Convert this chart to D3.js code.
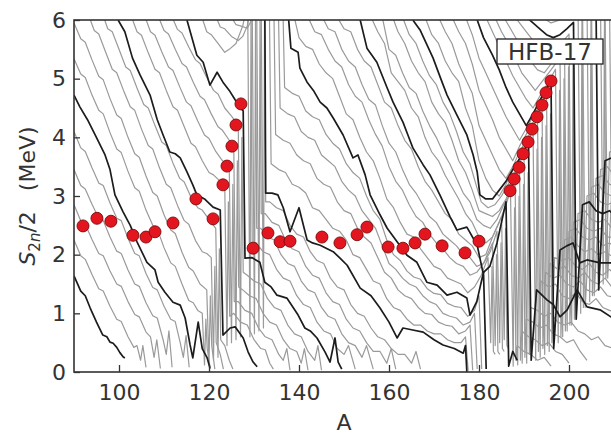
<!DOCTYPE html>
<html>
<head>
<meta charset="utf-8">
<script src="https://cdn.jsdelivr.net/npm/d3@7"></script>
<style>
  body { margin: 0; background: #fff; }
  svg { display: block; }
</style>
</head>
<body>
<svg id="chart" width="611" height="434"></svg>
<script>
// axis ticks
var xTicks = [100, 120, 140, 160, 180, 200]
var yTicks = [0, 1, 2, 3, 4, 5, 6]

// red dots (A, S2n/2)
var dotA = [92, 95.1, 98.2, 103.1, 106, 108, 112, 117.1, 120.9, 123.1, 124, 125.1, 126, 127.1,
            129.8, 133.1, 135.8, 138, 145.1, 149.1, 152.9, 155.1, 159.8, 163.1, 165.8, 168, 171.8, 176.9, 180,
            186.9, 187.8, 188.9, 189.8, 190.9, 191.8, 192.9, 194, 194.9, 196]
var dotS = [2.49, 2.62, 2.57, 2.33, 2.30, 2.39, 2.54, 2.95, 2.61, 3.19, 3.51, 3.85, 4.21, 4.57,
            2.11, 2.37, 2.22, 2.23, 2.30, 2.20, 2.34, 2.47, 2.13, 2.11, 2.20, 2.35, 2.15, 2.03, 2.23,
            3.09, 3.29, 3.49, 3.72, 3.92, 4.14, 4.35, 4.55, 4.76, 4.96]

// isotopic chains, [A, S2n/2]
var z30 = [[90,1.64],[91.5,1.38],[92.5,1.3],[93.6,1.09],[95,0.85],[96.4,0.63],[97.3,0.6],[98,0.51],[98.7,0.49],[99.5,0.42],[100.2,0.33],[100.9,0.26],[101.3,0.24]]
var z31 = [[90,2.25],[91.5,1.98],[92.5,1.92],[94,1.66],[95.5,1.42],[96.5,1.38],[98,1.12],[99.5,0.9],[100.5,0.86],[102,0.6],[103.3,0.42],[104,0.45],[104.8,0.2],[105.3,0.45],[106,0.08]]
var z32 = [[90,2.85],[91.5,2.58],[92.5,2.52],[94,2.26],[95.5,2.02],[96.5,1.98],[98,1.72],[99.5,1.5],[100.5,1.46],[102,1.2],[103.5,0.98],[104.5,0.94],[106,0.68],[107,0.6],[107.8,0.25],[108.4,0.55],[109.2,0.06]]
var z33 = [[90,3.45],[91.5,3.18],[92.5,3.12],[94,2.86],[95.5,2.62],[96.5,2.58],[98,2.3],[99.5,2.06],[100.5,2.02],[102,1.74],[103.5,1.5],[104.5,1.46],[106,1.18],[107.5,0.96],[108.5,0.92],[109.8,0.55],[110.5,0.3],[111.1,0.7],[111.8,0.08]]
var z34 = [[90,4.1],[91.5,3.82],[92.5,3.76],[94,3.48],[95.5,3.22],[96.5,3.18],[98,2.88],[99.5,2.62],[100.5,2.58],[102,2.28],[103.5,2.02],[104.5,1.98],[106,1.68],[107.5,1.44],[108.5,1.4],[110,1.12],[111.5,0.9],[112.5,0.86],[113.6,0.5],[114.3,0.25],[114.9,0.62],[115.6,0.08]]
var z35 = [[90,4.72],[91.3,4.52],[93,4.3],[94.7,4.04],[96.9,3.7],[98,3.45],[99.1,3.02],[100.9,2.73],[102.5,2.5],[104,2.22],[106.2,1.87],[108,1.74],[108.7,1.53],[110.2,1.36],[112,1.19],[113.6,1.14],[114.7,0.92],[115.8,0.46],[116.4,0.24],[117.6,0.85],[118.5,0.4],[119.6,0.24],[120.2,0.07]]
var z36 = [[90,5.34],[91.5,5.08],[92.5,5.02],[94,4.72],[95.5,4.46],[96.5,4.4],[98,4.08],[99.5,3.8],[100.5,3.74],[102,3.42],[103.5,3.14],[104.5,3.08],[106,2.76],[107.5,2.5],[108.5,2.44],[110,2.12],[111.5,1.86],[112.5,1.8],[114,1.5],[115.5,1.22],[116.5,1.18],[117.5,1.05],[118.5,1.0],[119,0.12],[119.3,0.9],[119.6,0.4],[120.3,0.05]]
var z37 = [[90,5.95],[91.5,5.68],[92.5,5.62],[94,5.32],[95.5,5.04],[96.5,4.98],[98,4.66],[99.5,4.38],[100.5,4.32],[102,4.0],[103.5,3.72],[104.5,3.66],[106,3.34],[107.5,3.06],[108.5,3.0],[110,2.68],[111.5,2.42],[112.5,2.36],[114,2.04],[115.5,1.78],[116.5,1.72],[118,1.5],[119.5,1.4],[120,0.15],[120.3,1.3],[120.6,0.45],[121.3,0.05]]
var z38 = [[93.4,6.05],[94.5,5.82],[95.5,5.76],[97,5.46],[98.5,5.16],[99.5,5.1],[101,4.8],[102.5,4.52],[103.5,4.46],[105,4.14],[106.5,3.86],[107.5,3.8],[109,3.48],[110.5,3.2],[111.5,3.14],[113,2.84],[114.5,2.58],[115.5,2.52],[117,2.24],[118.5,2.05],[119.5,2.02],[120.5,1.95],[121,0.2],[121.3,1.8],[121.6,0.5],[122.5,0.3],[123.2,0.05]]
var z39 = [[96.6,6.05],[97.5,5.85],[98.5,5.8],[100,5.5],[101.5,5.2],[102.5,5.14],[104,4.84],[105.5,4.56],[106.5,4.5],[108,4.2],[109.5,3.92],[110.5,3.86],[112,3.56],[113.5,3.3],[114.5,3.24],[116,2.98],[117.5,2.8],[118.5,2.76],[120,2.6],[121.5,2.45],[122,0.25],[122.3,2.1],[122.6,0.55],[123.5,0.45],[124.5,0.2],[125.3,0.05]]
var z40 = [[99.8,6.0],[101.3,5.8],[103,5.35],[104.7,5.06],[106.9,4.72],[108.5,4.3],[109.8,4.04],[111.3,3.75],[112.5,3.72],[113.6,3.65],[115.1,3.41],[116.4,3.19],[117.3,3.02],[119,2.95],[120.9,2.81],[122.5,2.76],[123.1,0.63],[124.7,0.75],[125.8,0.77],[127.6,0.58],[128.7,0.34],[129.8,0.17],[130.7,0.09]]
var z41 = [[102.8,6.05],[104,5.8],[105,5.74],[106.5,5.44],[108,5.16],[109,5.1],[110.5,4.8],[112,4.52],[113,4.46],[114.5,4.18],[116,3.9],[117,3.84],[118.5,3.6],[120,3.4],[121,3.36],[122.5,3.25],[123.5,3.19],[124,0.45],[124.3,2.9],[124.6,0.95],[125.5,1.0],[127,0.85],[128.5,0.8],[130,0.55],[131.5,0.4],[132.5,0.38],[133.5,0.15],[134.3,0.05]]
var z42 = [[105.8,6.05],[107,5.8],[108,5.74],[109.5,5.46],[111,5.2],[112,5.14],[113.5,4.86],[115,4.6],[116,4.54],[117.5,4.28],[119,4.04],[120,3.98],[121.5,3.76],[123,3.6],[124.5,3.51],[125,0.5],[125.3,3.2],[125.6,1.2],[126.5,1.2],[128,1.05],[129.5,1.0],[131,0.75],[132.5,0.6],[134,0.55],[135.5,0.3],[136.5,0.2],[137.3,0.4],[138,0.03]]
var z43 = [[108.8,6.05],[110,5.82],[111,5.76],[112.5,5.5],[114,5.26],[115,5.2],[116.5,4.94],[118,4.7],[119,4.64],[120.5,4.4],[122,4.18],[123,4.12],[124.5,3.95],[125.5,3.85],[126,0.55],[126.3,3.6],[126.6,1.45],[127.5,1.4],[129,1.3],[130.5,1.25],[132,1.0],[133.5,0.85],[135,0.8],[136.5,0.55],[138,0.4],[139.5,0.35],[140.5,0.15],[141.2,0.4],[142,0.03]]
var z44 = [[111.8,6.05],[113,5.84],[114,5.78],[115.5,5.54],[117,5.32],[118,5.26],[119.5,5.02],[121,4.8],[122,4.74],[123.5,4.5],[125,4.36],[126.5,4.21],[127,0.6],[127.3,4.0],[127.6,1.7],[128.5,1.65],[130,1.55],[131.5,1.5],[133,1.25],[134.5,1.1],[136,1.05],[137.5,0.8],[139,0.65],[140.5,0.6],[142,0.35],[143.5,0.2],[144.2,0.45],[145,0.03]]
var z45 = [[115.1,6.0],[117.3,5.4],[118.7,5.28],[120.2,4.89],[121.8,5.11],[123.1,4.94],[124.5,4.8],[125.8,4.64],[126.9,4.52],[127.6,4.45],[128,1.94],[129.5,1.95],[131.3,1.87],[132.4,1.53],[133.8,1.45],[135.1,1.31],[137.3,1.26],[139.8,0.97],[141.3,0.75],[142.5,0.7],[144,0.58],[145.8,0.34],[146.9,0.17],[148,0.58],[148.7,0.17],[149.5,0.05]]
var z46 = [[118.4,6.05],[119.5,5.8],[120.5,5.75],[122,5.6],[123.5,5.45],[124.5,5.5],[126,5.6],[127.5,5.9],[128.6,6.3],[129.1,0.6],[129.35,6.3],[129.6,2.2],[130.5,2.2],[132,2.05],[133.5,2.0],[135,1.75],[136.5,1.6],[138,1.55],[139.5,1.3],[141,1.15],[142.5,1.1],[144,0.85],[145.5,0.7],[147,0.65],[148.5,0.4],[150,0.3],[151,0.45],[152.5,0.05]]
var z47 = [[121.6,6.05],[122.5,5.88],[123.5,5.85],[125,5.72],[126.5,5.65],[127.5,5.72],[128.5,5.9],[129.6,6.3],[130.1,0.65],[130.35,6.3],[130.6,2.45],[131.5,2.45],[133,2.3],[134.5,2.25],[136,2.0],[137.5,1.85],[139,1.8],[140.5,1.55],[142,1.4],[143.5,1.35],[145,1.1],[146.5,0.95],[148,0.9],[149.5,0.65],[151,0.5],[152.5,0.45],[154,0.25],[155,0.45],[156.5,0.05]]
var z48 = [[125,6.05],[126,5.92],[127,5.9],[128.5,5.86],[129.5,6.0],[130.6,6.3],[131.1,0.7],[131.35,6.3],[131.6,2.7],[132.5,2.7],[134,2.55],[135.5,2.5],[137,2.25],[138.5,2.1],[140,2.05],[141.5,1.8],[143,1.65],[144.5,1.6],[146,1.35],[147.5,1.2],[149,1.15],[150.5,0.9],[152,0.75],[153.5,0.7],[155,0.5],[156.5,0.35],[158,0.35],[159.5,0.15],[160.5,0.4],[161.5,0.05]]
var z49 = [[131.6,6.3],[132.1,0.75],[132.35,6.3],[132.6,2.9],[133.5,2.9],[135,2.8],[136.5,2.75],[138,2.5],[139.5,2.35],[141,2.3],[142.5,2.05],[144,1.9],[145.5,1.85],[147,1.6],[148.5,1.45],[150,1.4],[151.5,1.15],[153,1.0],[154.5,0.95],[156,0.75],[157.5,0.6],[159,0.55],[160.5,0.4],[162,0.3],[163.5,0.3],[165,0.15],[166,0.35],[167,0.05]]
var z50 = [[132.4,6.3],[132.6,3.05],[134,3.05],[135.3,3.02],[136.5,2.8],[138,2.39],[140,2.8],[141.8,2.25],[143,2.2],[144.7,2.16],[147.6,2.05],[149,1.95],[150.7,1.82],[153.6,1.43],[156,1.3],[158,1.09],[160,0.85],[161.8,0.58],[163.1,0.75],[165,0.72],[167.6,0.68],[170,0.55],[172,0.46],[174.5,0.4],[176.5,0.32],[177,0.45],[177.3,0.0]]
var z51 = [[133.4,6.3],[133.8,3.55],[135.5,3.45],[137,3.4],[138.5,3.2],[140,3.15],[141.5,3.05],[143,2.8],[144.5,2.75],[146,2.6],[147.5,2.45],[149,2.4],[150.5,2.25],[152,2.0],[153.5,1.95],[155,1.75],[156.5,1.55],[158,1.5],[159.5,1.25],[161,1.1],[162.5,1.05],[164,0.9],[165.5,0.8],[167,0.8],[168.5,0.7],[170,0.65],[171.5,0.65],[173,0.55],[174.5,0.5],[176,0.5],[177,0.6],[177.6,0.02]]
var z52 = [[134.4,6.3],[134.8,4.05],[136.5,3.95],[138,3.9],[139.5,3.7],[141,3.6],[142.5,3.55],[144,3.3],[145.5,3.2],[147,3.15],[148.5,2.9],[150,2.75],[151.5,2.7],[153,2.45],[154.5,2.3],[156,2.2],[157.5,1.95],[159,1.7],[160.5,1.6],[162,1.4],[163.5,1.3],[165,1.25],[166.5,1.1],[168,1.0],[169.5,0.98],[171,0.85],[172.5,0.8],[174,0.78],[175.5,0.65],[177,0.7],[178,0.8],[178.6,0.03]]
var z53 = [[135.4,6.3],[135.8,4.5],[137.5,4.4],[139,4.35],[140.5,4.1],[142,4.0],[143.5,3.95],[145,3.7],[146.5,3.6],[148,3.5],[149.5,3.25],[151,3.1],[152.5,3.0],[154,2.75],[155.5,2.6],[157,2.45],[158.5,2.15],[160,1.85],[161.5,1.75],[163,1.6],[164.5,1.5],[166,1.45],[167.5,1.3],[169,1.2],[170.5,1.15],[172,1.0],[173.5,0.95],[175,0.92],[176.5,0.8],[178,0.85],[179,1.0],[179.6,0.05]]
var z54 = [[136.4,6.3],[136.8,4.85],[138.5,4.75],[140,4.7],[141.5,4.45],[143,4.35],[144.5,4.3],[146,4.05],[147.5,3.9],[149,3.8],[150.5,3.55],[152,3.4],[153.5,3.3],[155,3.0],[156.5,2.75],[158,2.6],[159.5,2.25],[161,2.0],[162.5,1.9],[164,1.72],[165.5,1.62],[167,1.58],[168.5,1.42],[170,1.34],[171.5,1.32],[173,1.17],[174.5,1.12],[176,1.1],[177.5,0.95],[179,1.05],[180,1.3],[180.6,0.05]]
var z55 = [[137.4,6.3],[138.2,5.52],[139.8,5.45],[140.2,5.18],[141.8,4.94],[143.2,4.8],[144.7,4.6],[146.2,4.5],[147.6,4.33],[149.8,4.04],[152,3.65],[153.1,3.7],[154.7,3.36],[155.8,3.02],[158,2.68],[159.6,2.45],[161.8,2.22],[164,1.99],[166.2,1.87],[168.4,1.53],[170.7,1.48],[172.9,1.31],[175.1,1.36],[177.3,1.26],[178,0.97],[179.5,1.2],[181,1.7],[181.6,0.05]]
var z56 = [[138.8,6.1],[140,5.7],[141.5,5.55],[143,5.5],[144.5,5.25],[146,5.1],[147.5,5.0],[149,4.7],[150.5,4.4],[152,4.3],[153.5,4.0],[155,3.75],[156.5,3.6],[158,3.3],[159.5,2.95],[161,2.8],[162.5,2.55],[164,2.35],[165.5,2.3],[167,2.1],[168.5,1.95],[170,1.8],[171.5,1.75],[173,1.6],[174.5,1.55],[176,1.5],[177.5,1.35],[179,1.45],[180.5,1.65],[182,1.95],[182.6,0.5],[182.9,1.8],[183.2,0.35],[183.6,0.3]]
var z57 = [[142,6.05],[143.5,5.8],[145,5.75],[146.5,5.5],[148,5.3],[149.5,5.2],[151,4.9],[152.5,4.7],[154,4.6],[155.5,4.3],[157,4.05],[158.5,3.85],[160,3.5],[161.5,3.25],[163,3.1],[164.5,2.85],[166,2.65],[167.5,2.55],[169,2.35],[170.5,2.2],[172,2.1],[173.5,1.95],[175,1.85],[176.5,1.8],[178,1.65],[179.5,1.7],[181,1.85],[183,2.2],[183.6,0.45],[183.9,2.0],[184.2,0.35],[184.6,0.3]]
var z58 = [[145.2,6.05],[146.5,5.85],[148,5.8],[149.5,5.5],[151,5.3],[152.5,5.2],[154,4.9],[155.5,4.65],[157,4.55],[158.5,4.2],[160,3.9],[161.5,3.75],[163,3.45],[164.5,3.2],[166,3.05],[167.5,2.85],[169,2.65],[170.5,2.55],[172,2.35],[173.5,2.25],[175,2.15],[176.5,2.0],[178,1.95],[179.5,1.8],[181,1.85],[182.5,2.05],[184,2.4],[184.6,0.5],[184.9,2.2],[185.2,0.4],[185.6,0.35]]
var z59 = [[148.5,6.05],[150,5.85],[151.5,5.8],[153,5.5],[154.5,5.3],[156,5.2],[157.5,4.9],[159,4.6],[160.5,4.5],[162,4.2],[163.5,3.95],[165,3.8],[166.5,3.5],[168,3.25],[169.5,3.1],[171,2.9],[172.5,2.7],[174,2.6],[175.5,2.35],[177,2.25],[178.5,2.15],[180,1.95],[181.5,2.0],[183,2.3],[185,2.65],[185.6,0.55],[185.9,2.45],[186.2,0.45],[186.6,0.4]]
var z60 = [[153.6,6.0],[155.1,5.52],[157.3,5.28],[159.6,4.84],[160.9,4.6],[163.1,4.26],[164.2,4.04],[165.3,3.82],[167.6,3.53],[169.1,3.36],[171.3,3.02],[173.6,2.64],[175.1,2.42],[177.3,2.47],[179.6,2.16],[180.9,1.69],[182.4,1.8],[184,2.2],[186,2.9],[186.6,0.1],[187.5,0.35],[188.5,0.2]]
var z61 = [[156,6.05],[157.5,5.8],[159,5.6],[160.5,5.1],[162,4.95],[163.5,4.8],[165,4.5],[166.5,4.35],[168,4.0],[169.5,3.75],[171,3.6],[172.5,3.35],[174,3.15],[175.5,2.95],[177,2.7],[178.5,2.55],[180,2.3],[181.5,2.2],[183,2.3],[184.5,2.55],[186,2.85],[187,3.09],[187.6,0.1],[187.9,2.8],[188.2,0.2],[188.5,0.45],[190,0.35],[191.5,0.3],[193,0.2],[194.5,0.25],[196,0.1]]
var z62 = [[158.5,6.05],[160,5.5],[161.5,5.4],[163,5.1],[164.5,4.85],[166,4.75],[167.5,4.45],[169,4.2],[170.5,4.0],[172,3.75],[173.5,3.55],[175,3.3],[176.5,3.05],[178,2.9],[179.5,2.6],[181,2.5],[182.5,2.45],[184,2.6],[185.5,2.85],[187,3.05],[188,3.29],[188.6,0.12],[188.9,3.0],[189.2,0.2],[189.5,0.7],[191,0.6],[192.5,0.55],[194,0.45],[195.5,0.5],[197,0.35],[198.5,0.3],[200,0.15]]
var z63 = [[160.8,6.05],[162,5.8],[163.5,5.6],[165,5.3],[166.5,5.1],[168,4.95],[169.5,4.6],[171,4.4],[172.5,4.25],[174,3.95],[175.5,3.6],[177,3.4],[178.5,3.1],[180,2.75],[181.5,2.7],[183,2.65],[184.5,2.75],[186,2.95],[187.5,3.2],[189,3.49],[189.6,0.15],[189.9,3.2],[190.2,0.25],[190.5,0.9],[192,0.85],[193.5,0.75],[195,0.8],[196.5,0.65],[198,0.6],[199.5,0.5],[201,0.55],[202.5,0.35],[204,0.2]]
var z64 = [[163,6.05],[164.5,5.75],[166,5.6],[167.5,5.3],[169,5.05],[170.5,4.9],[172,4.6],[173.5,4.4],[175,4.1],[176.5,3.75],[178,3.55],[179.5,3.15],[180.5,2.9],[182,2.8],[183.5,2.85],[185,3.0],[186.5,3.2],[188,3.4],[190,3.72],[190.6,0.15],[190.9,3.4],[191.2,0.3],[191.5,1.1],[193,1.05],[194.5,0.95],[196,1.0],[197.5,0.85],[199,0.8],[200.5,0.85],[202,0.7],[203.5,0.65],[205,0.55],[206.5,0.6],[208,0.45],[210,0.4]]
var z65 = [[165.3,6.0],[166.9,5.83],[169.8,5.35],[171.5,5.0],[172.9,4.72],[175.1,4.38],[177.3,4.04],[178.7,3.7],[179.6,3.41],[180.2,3.02],[181.5,2.95],[183,2.95],[184.5,3.1],[186,3.25],[187.5,3.45],[189.5,3.7],[191,3.92],[191.6,0.2],[192.8,1.4],[195.1,1.23],[196.5,1.15],[198,0.94],[199.6,1.06],[201.8,1.4],[204,1.11],[206.9,1.06],[209.3,0.94],[211,0.9]]
var z66 = [[168,6.05],[169.5,5.75],[171,5.6],[172.5,5.3],[174,5.1],[175.5,4.95],[177,4.5],[178.5,4.2],[180,3.6],[181.5,3.3],[183,3.1],[184.5,3.0],[186,3.2],[187.5,3.45],[189,3.6],[190.5,3.85],[192,4.14],[192.6,0.2],[192.9,3.8],[193.2,0.35],[193.8,1.55],[195.5,1.45],[197,1.5],[198.5,1.3],[200,1.25],[201.5,1.35],[203,1.2],[204.5,1.15],[206,1.25],[207.5,1.1],[209,1.05],[211,1.0]]
var z67 = [[171,6.05],[172.5,5.8],[174,5.6],[175.5,5.25],[177,5.0],[178.5,4.75],[180,4.2],[181.5,3.95],[183,3.7],[184.5,3.45],[186,3.3],[187.5,3.5],[189,3.75],[190.5,3.95],[192,4.15],[193,4.35],[193.6,0.25],[193.9,4.0],[194.2,0.4],[194.8,1.7],[196.5,1.6],[198,1.65],[199.5,1.5],[201,1.45],[202.5,1.55],[204,1.4],[205.5,1.35],[207,1.45],[208.5,1.3],[211,1.25]]
var z68 = [[174,6.05],[175.5,5.8],[177,5.6],[178.5,5.25],[180,4.8],[181.5,4.55],[183,4.3],[184.5,4.0],[186,3.8],[187.5,3.6],[189,3.85],[190.5,4.05],[192,4.25],[194,4.55],[194.6,0.3],[194.9,4.2],[195.2,0.45],[195.8,1.85],[197.5,1.75],[199,1.8],[200.5,1.65],[202,1.6],[203.5,1.7],[205,1.55],[206.5,1.5],[208,1.6],[209.5,1.45],[211,1.4]]
var z69 = [[177,6.05],[178.5,5.75],[180,5.35],[181.5,5.1],[183,4.85],[184.5,4.6],[186,4.35],[187.5,4.15],[189,3.95],[190.5,4.15],[192,4.35],[193.5,4.55],[195,4.76],[195.6,0.35],[195.9,4.4],[196.2,0.5],[196.8,1.95],[198.5,1.9],[200,1.95],[201.5,1.8],[203,1.75],[204.5,1.85],[206,1.7],[207.5,1.65],[209,1.75],[211,1.6]]
var z70 = [[179.6,6.0],[181,5.7],[183,5.4],[184.5,5.15],[186,4.85],[187.5,4.6],[189,4.4],[190.5,4.2],[192,4.4],[194,4.7],[196,4.96],[196.6,0.4],[198,2.08],[199.5,2.15],[200.9,2.2],[202.4,1.86],[204,1.91],[206.9,1.86],[209.3,1.86],[211,1.8]]
var z71 = [[181.5,6.05],[183,5.8],[184.5,5.55],[186,5.3],[187.5,5.05],[189,4.85],[190.5,4.65],[192,4.5],[193.5,4.7],[195.5,4.95],[197,5.16],[197.6,0.5],[197.9,4.8],[198.2,0.6],[199,2.25],[200.5,2.3],[202,2.15],[203.5,2.05],[205,2.1],[206.5,2.0],[208,2.05],[210,1.95]]
var z72 = [[183.5,6.05],[185,5.8],[186.5,5.6],[188,5.35],[189.5,5.1],[191,4.95],[192.5,4.8],[194,4.95],[196,5.15],[198,5.36],[198.6,0.6],[198.9,5.0],[199.2,0.7],[200,2.4],[201.5,2.45],[203,2.3],[204.5,2.25],[206,2.3],[207.5,2.15],[209,2.2],[211,2.1]]
var z73 = [[185.5,6.05],[187,5.85],[188.5,5.65],[190,5.45],[191.5,5.3],[193,5.15],[194.5,5.1],[196,5.25],[197.5,5.4],[199,5.56],[199.6,0.7],[199.9,5.2],[200.2,0.8],[201,2.55],[202.5,2.6],[204,2.45],[205.5,2.4],[207,2.45],[208.5,2.3],[211,2.3]]
var z74 = [[188,6.05],[189.5,5.9],[191,5.75],[192.5,5.6],[194,5.45],[195.5,5.4],[197,5.5],[198.5,5.62],[200,5.76],[200.6,0.8],[200.9,5.4],[201.2,0.9],[202,2.7],[203.5,2.75],[205,2.6],[206.5,2.55],[208,2.6],[209.5,2.45],[211,2.45]]
var z75 = [[190.5,6.05],[192,5.95],[193.5,5.85],[195,5.75],[196.5,5.7],[198,5.75],[199.5,5.85],[201,5.96],[201.6,0.9],[203,2.85],[204.5,2.9],[206,2.75],[207.5,2.7],[209,2.75],[211,2.6]]
var z76 = [[194,6.05],[196,5.95],[198,6.0],[202,6.3],[202.6,1.0],[202.9,6.3],[203.2,1.1],[204,3.0],[205.5,3.05],[207,2.9],[208.5,2.85],[210,2.9],[211,2.8]]
var z77 = [[203,6.3],[203.6,1.1],[205,3.15],[206.5,3.2],[208,3.05],[209.5,3.0],[211,3.05]]
var z78 = [[204,6.3],[204.6,1.2],[204.9,6.3],[205.2,1.3],[206,3.3],[207.5,3.35],[209,3.2],[211,3.15]]
var z79 = [[205,6.3],[205.6,1.3],[207,3.45],[208.5,3.5],[210,3.35],[211,3.3]]
var z80 = [[206,6.3],[206.6,1.4],[208,3.6],[209.5,3.65],[211,3.5]]
var z81 = [[207,6.3],[207.6,1.5],[207.9,6.3],[208.2,1.6],[209,3.75],[210.5,3.8],[211,3.75]]
var z82 = [[208,6.3],[208.6,1.6],[210,3.9],[211,3.95]]
var z83 = [[209,6.3],[209.6,1.7],[211,4.05]]

var chainZ = d3.range(30, 84)
var chainPts = [z30,z31,z32,z33,z34,z35,z36,z37,z38,z39,z40,z41,z42,z43,z44,z45,z46,z47,z48,z49,
                z50,z51,z52,z53,z54,z55,z56,z57,z58,z59,z60,z61,z62,z63,z64,z65,z66,z67,z68,z69,
                z70,z71,z72,z73,z74,z75,z76,z77,z78,z79,z80,z81,z82,z83]
var blackZ = [30, 35, 40, 45, 50, 55, 60, 65, 70, 75, 80]

var svg = d3.select("#chart")
var dims = {
    width: 611,
    height: 434,
    margin: { top: 20, bottom: 62, left: 74, right: -3 }
}
var fontSize = 22
var textColor = "#333"

var xScale = d3.scaleLinear()
               .domain([90, 210])
               .range([dims.margin.left, dims.width - dims.margin.right])
var yScale = d3.scaleLinear()
               .domain([0, 6])
               .range([dims.height - dims.margin.bottom, dims.margin.top])

svg.append("defs").append("clipPath").attr("id", "plot-clip")
   .append("rect")
   .attr("x", dims.margin.left)
   .attr("y", dims.margin.top)
   .attr("width", dims.width - dims.margin.right - dims.margin.left)
   .attr("height", dims.height - dims.margin.bottom - dims.margin.top)

var line = d3.line()
             .x(d => xScale(d[0]))
             .y(d => yScale(d[1]))

var chains = chainZ.map((z, i) => ({ z: z, pts: chainPts[i] }))

var lines = svg.append("g").attr("clip-path", "url(#plot-clip)")
// gray chains first, black every fifth Z on top
lines.selectAll(".gray")
     .data(chains.filter(d => blackZ.indexOf(d.z) < 0))
     .enter()
     .append("path")
     .attr("class", "gray")
     .attr("d", d => line(d.pts))
     .attr("fill", "none")
     .attr("stroke", "#9a9a9a")
     .attr("stroke-width", 1.2)
     .attr("stroke-linejoin", "round")
lines.selectAll(".black")
     .data(chains.filter(d => blackZ.indexOf(d.z) >= 0))
     .enter()
     .append("path")
     .attr("class", "black")
     .attr("d", d => line(d.pts))
     .attr("fill", "none")
     .attr("stroke", "#1c1c1c")
     .attr("stroke-width", 1.7)
     .attr("stroke-linejoin", "round")

//frame
svg.append("rect")
   .attr("x", dims.margin.left)
   .attr("y", dims.margin.top)
   .attr("width", dims.width - dims.margin.right - dims.margin.left)
   .attr("height", dims.height - dims.margin.bottom - dims.margin.top)
   .attr("fill", "none")
   .attr("stroke", "#333")
   .attr("stroke-width", 1.6)

//axis, ticks pointing inwards
var xAxis = svg.append("g")
   .attr("transform", `translate(0, ${dims.height - dims.margin.bottom})`)
   .call(d3.axisBottom(xScale).tickValues(xTicks).tickSizeInner(-7).tickSizeOuter(0).tickPadding(12).tickFormat(d3.format("d")))
var yAxis = svg.append("g")
   .attr("transform", `translate(${dims.margin.left}, 0)`)
   .call(d3.axisLeft(yScale).tickValues(yTicks).tickSizeInner(-6).tickSizeOuter(0).tickPadding(8).tickFormat(d3.format("d")))
;[xAxis, yAxis].forEach(g => {
    g.select(".domain").remove()
    g.selectAll("line").attr("stroke", "#333").attr("stroke-width", 1.3)
    g.selectAll("text")
     .attr("font-family", "DejaVu Sans")
     .attr("font-size", fontSize)
     .attr("fill", textColor)
})

//red dots
svg.append("g")
   .selectAll("circle")
   .data(dotA.map((a, i) => [a, dotS[i]]))
   .enter()
   .append("circle")
   .attr("cx", d => xScale(d[0]))
   .attr("cy", d => yScale(d[1]))
   .attr("r", 6)
   .attr("fill", "#e3161f")
   .attr("stroke", "#7a0a0a")
   .attr("stroke-width", 0.9)

//model label
svg.append("rect")
   .attr("x", 497).attr("y", 39)
   .attr("width", 106).attr("height", 25)
   .attr("fill", "#fff")
   .attr("stroke", "#222")
   .attr("stroke-width", 1.3)
svg.append("text")
   .attr("x", 550).attr("y", 60)
   .attr("text-anchor", "middle")
   .attr("font-family", "DejaVu Sans")
   .attr("font-size", 23)
   .attr("fill", textColor)
   .text("HFB-17")

//axis labels
svg.append("text")
   .attr("x", (dims.margin.left + dims.width - dims.margin.right) / 2)
   .attr("y", 430)
   .attr("text-anchor", "middle")
   .attr("font-family", "DejaVu Sans")
   .attr("font-size", fontSize)
   .attr("fill", textColor)
   .text("A")

var yLabel = svg.append("text")
   .attr("transform", `translate(35, ${(dims.margin.top + dims.height - dims.margin.bottom) / 2}) rotate(-90)`)
   .attr("text-anchor", "middle")
   .attr("font-family", "DejaVu Sans")
   .attr("font-size", fontSize)
   .attr("fill", textColor)
yLabel.append("tspan").attr("font-style", "italic").text("S")
yLabel.append("tspan").attr("font-size", 15).attr("dy", 5).text("2")
yLabel.append("tspan").attr("font-size", 15).attr("font-style", "italic").text("n")
yLabel.append("tspan").attr("dy", -5).text("/2")
yLabel.append("tspan").attr("dx", 20).text("(MeV)")
</script>
</body>
</html>
